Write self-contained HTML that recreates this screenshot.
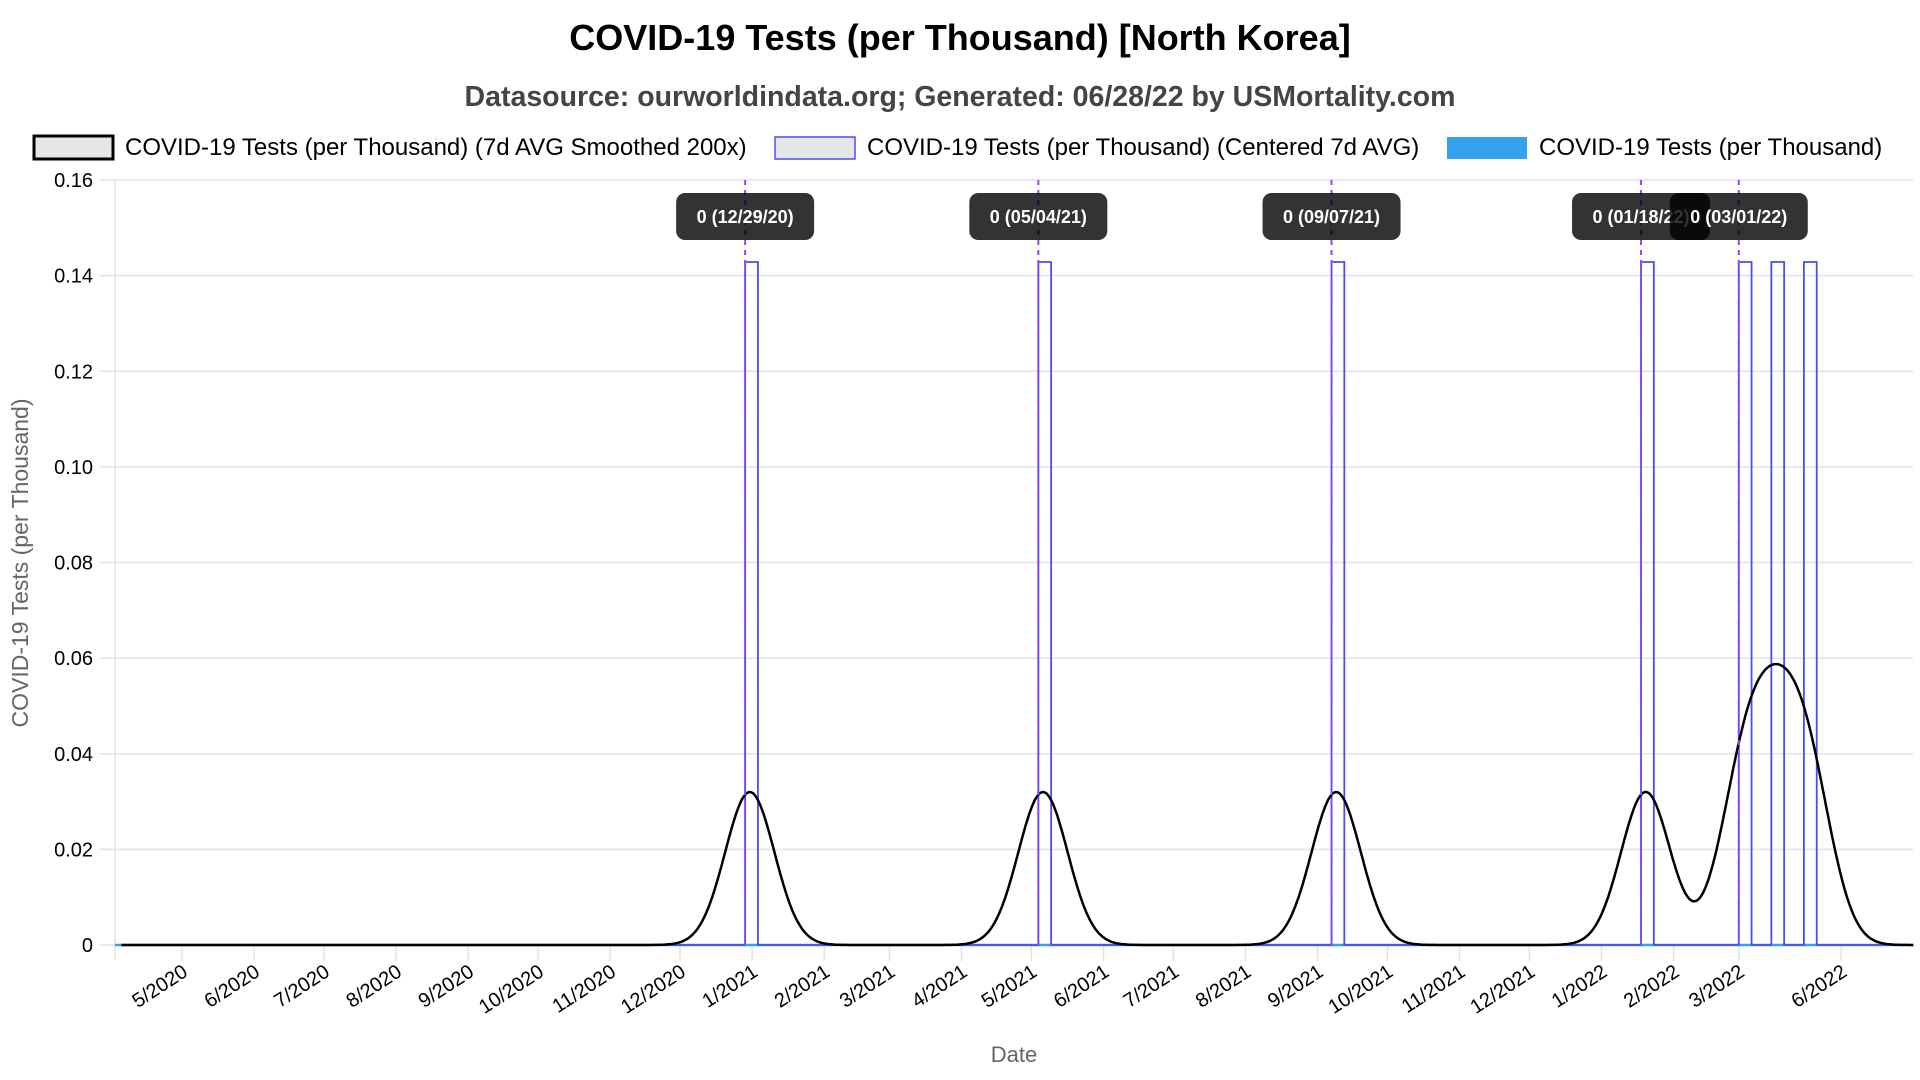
<!DOCTYPE html>
<html><head><meta charset="utf-8"><style>
html,body{margin:0;padding:0;background:#fff;width:1920px;height:1080px;overflow:hidden}
svg{display:block;font-family:"Liberation Sans",sans-serif}
</style></head><body>
<svg id="chart" width="1920" height="1080">
<text x="960" y="50" text-anchor="middle" font-size="36" font-weight="bold" fill="#000">COVID-19 Tests (per Thousand) [North Korea]</text>
<text x="960" y="106" text-anchor="middle" font-size="28.5" font-weight="bold" fill="#444">Datasource: ourworldindata.org; Generated: 06/28/22 by USMortality.com</text>
<g>
<g><rect x="34" y="136" width="79" height="23" fill="#e6e6e6" stroke="#000" stroke-width="3"/><text x="125" y="155" font-size="24">COVID-19 Tests (per Thousand) (7d AVG Smoothed 200x)</text></g>
<g><rect x="775" y="137" width="80" height="22" fill="#e6e6e6" stroke="#4b4bf5" stroke-width="1.5"/><text x="867" y="155" font-size="24">COVID-19 Tests (per Thousand) (Centered 7d AVG)</text></g>
<g><rect x="1447" y="137" width="80" height="22" fill="#36a2eb"/><text x="1539" y="155" font-size="24">COVID-19 Tests (per Thousand)</text></g>
</g>
<g id="grid"></g><g id="series"></g><g id="hover"></g>
<text transform="translate(28,563) rotate(-90)" text-anchor="middle" font-size="23" fill="#666">COVID-19 Tests (per Thousand)</text>
<text x="1014" y="1062" text-anchor="middle" font-size="22" fill="#666">Date</text>
</svg>
<script>
const yTicks = [0, 0.02, 0.04, 0.06, 0.08, 0.10, 0.12, 0.14, 0.16];
const yTickLabels = ["0","0.02","0.04","0.06","0.08","0.10","0.12","0.14","0.16"];
const xTickDates = ["2020-05-01","2020-06-01","2020-07-01","2020-08-01","2020-09-01","2020-10-01","2020-11-01","2020-12-01","2021-01-01","2021-02-01","2021-03-01","2021-04-01","2021-05-01","2021-06-01","2021-07-01","2021-08-01","2021-09-01","2021-10-01","2021-11-01","2021-12-01","2022-01-01","2022-02-01","2022-03-01","2022-04-14"];
const xTickLabels = ["5/2020","6/2020","7/2020","8/2020","9/2020","10/2020","11/2020","12/2020","1/2021","2/2021","3/2021","4/2021","5/2021","6/2021","7/2021","8/2021","9/2021","10/2021","11/2021","12/2021","1/2022","2/2022","3/2022","6/2022"];
const eventDates = ["2020-12-29","2021-05-04","2021-09-07","2022-01-18","2022-03-01","2022-03-15","2022-03-29"];
const centeredValues = [0.142857,0.142857,0.142857,0.142857,0.142857,0.142857,0.142857];
const smoothedPeaks = [0.032,0.032,0.032,0.032,0.032,0.032,0.032];
const rawValues = [0,0,0,0,0,0,0];
const hoverDates = ["2020-12-29","2021-05-04","2021-09-07","2022-01-18","2022-03-01"];
const hoverLabels = ["0 (12/29/20)","0 (05/04/21)","0 (09/07/21)","0 (01/18/22)","0 (03/01/22)"];
const startDate = "2020-04-05", endDate = "2022-05-15";

const NS="http://www.w3.org/2000/svg";
const L=115,R=1913,T=180,B=945;
const day=s=>Date.UTC(+s.slice(0,4),+s.slice(5,7)-1,+s.slice(8,10))/86400000;
const d0=day("2020-05-01");
const x=s=>182+2.327*((typeof s==="number"?s:day(s))-d0);
const y=v=>B-(v/0.16)*(B-T);
function mk(tag,attrs,parent){const e=document.createElementNS(NS,tag);for(const k in attrs)e.setAttribute(k,attrs[k]);parent.appendChild(e);return e;}
const grid=document.getElementById('grid'),ser=document.getElementById('series'),hov=document.getElementById('hover');
yTicks.forEach((v,i)=>{
  const g=mk('line',{x1:L-15,x2:R,y1:y(v),y2:y(v),stroke:'#e3e3e3','stroke-width':1.5},grid);
  
  
  const t=mk('text',{x:93,y:y(v)+7,'text-anchor':'end','font-size':20,fill:'#000'},grid);
  t.textContent=yTickLabels[i];
  
  
});
mk('line',{x1:L,x2:L,y1:T,y2:B+15,stroke:'#e3e3e3','stroke-width':1.5},grid);
xTickDates.forEach((d,i)=>{
  const xx=x(d);
  mk('line',{x1:xx,x2:xx,y1:B,y2:B+16,stroke:'#e3e3e3','stroke-width':1.5},grid);
  const t=mk('text',{transform:`translate(${xx+7},${B+30}) rotate(-33)`,'text-anchor':'end','font-size':20,fill:'#000'},grid);
  t.textContent=xTickLabels[i];
  
  
});
const raw=mk('line',{x1:L,x2:R,y1:y(rawValues[0]),y2:y(rawValues[0]),stroke:'#36a2eb','stroke-width':2.5},ser);


let p=`M${x(startDate)},${y(0)}`;
eventDates.forEach((d,i)=>{const a=x(d),b=x(day(d)+5.5);p+=` L${a},${y(0)} L${a},${y(centeredValues[i])} L${b},${y(centeredValues[i])} L${b},${y(0)}`;});
p+=` L${x(endDate)},${y(0)}`;
const cen=mk('path',{d:p,fill:'none',stroke:'#4b4bf5','stroke-width':1.8},ser);


const sg=10.6;let sp='';
for(let t=day(startDate);t<=day(endDate);t+=0.5){
  let v=0;eventDates.forEach((d,i)=>{const dd=t-(day(d)+2);v+=smoothedPeaks[i]*Math.exp(-dd*dd/(2*sg*sg));});
  sp+=(sp?' L':'M')+x(t).toFixed(1)+','+y(v).toFixed(1);
}
const sm=mk('path',{d:sp,fill:'none',stroke:'#000','stroke-width':2.5},ser);


hoverDates.forEach((d,i)=>{
  const xx=x(d);
  const l=mk('line',{x1:xx,x2:xx,y1:T,y2:B,stroke:'#a040ff','stroke-width':2,'stroke-dasharray':'5,5'},hov);
  
  
});
hoverDates.forEach((d,i)=>{
  const xx=x(d);
  const r=mk('rect',{x:xx-69,y:193,width:138,height:47,rx:9,fill:'rgba(0,0,0,0.8)'},hov);
  
  
  const t=mk('text',{x:xx,y:223,'text-anchor':'middle','font-size':18,'font-weight':'bold',fill:'#fff'},hov);
  t.textContent=hoverLabels[i];
  
  
});
</script>
</body></html>
